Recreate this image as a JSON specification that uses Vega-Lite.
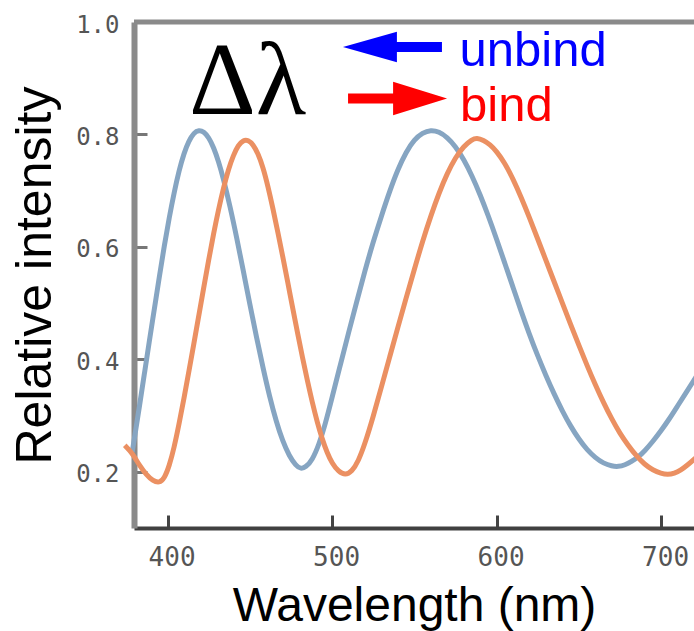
{
  "$schema": "https://vega.github.io/schema/vega-lite/v6.json",
  "width": 560,
  "height": 506,
  "autosize": {"type": "none"},
  "padding": {"left": 134, "top": 22, "right": 0, "bottom": 103},
  "background": "white",
  "config": {"view": {"stroke": null}},
  "layer": [
    {
      "data": {"values": [{"border": "top", "intensity": 1.0}]},
      "mark": {"type": "rule", "color": "#8a8a8a", "strokeWidth": 5},
      "encoding": {"y": {"field": "intensity", "type": "quantitative"}}
    },
    {
      "data": {"values": [
        {"wavelength": 378.5, "intensity": 0.235, "series": "unbind"},
        {"wavelength": 380, "intensity": 0.262, "series": "unbind"},
        {"wavelength": 383, "intensity": 0.318, "series": "unbind"},
        {"wavelength": 386, "intensity": 0.376, "series": "unbind"},
        {"wavelength": 389, "intensity": 0.434, "series": "unbind"},
        {"wavelength": 392, "intensity": 0.49, "series": "unbind"},
        {"wavelength": 395, "intensity": 0.547, "series": "unbind"},
        {"wavelength": 398, "intensity": 0.602, "series": "unbind"},
        {"wavelength": 401, "intensity": 0.652, "series": "unbind"},
        {"wavelength": 404, "intensity": 0.697, "series": "unbind"},
        {"wavelength": 407, "intensity": 0.736, "series": "unbind"},
        {"wavelength": 410, "intensity": 0.767, "series": "unbind"},
        {"wavelength": 413, "intensity": 0.789, "series": "unbind"},
        {"wavelength": 416, "intensity": 0.803, "series": "unbind"},
        {"wavelength": 419, "intensity": 0.808, "series": "unbind"},
        {"wavelength": 422, "intensity": 0.805, "series": "unbind"},
        {"wavelength": 425, "intensity": 0.795, "series": "unbind"},
        {"wavelength": 428, "intensity": 0.777, "series": "unbind"},
        {"wavelength": 431, "intensity": 0.752, "series": "unbind"},
        {"wavelength": 434, "intensity": 0.721, "series": "unbind"},
        {"wavelength": 438, "intensity": 0.672, "series": "unbind"},
        {"wavelength": 442, "intensity": 0.617, "series": "unbind"},
        {"wavelength": 446, "intensity": 0.558, "series": "unbind"},
        {"wavelength": 450, "intensity": 0.498, "series": "unbind"},
        {"wavelength": 454, "intensity": 0.44, "series": "unbind"},
        {"wavelength": 458, "intensity": 0.385, "series": "unbind"},
        {"wavelength": 462, "intensity": 0.334, "series": "unbind"},
        {"wavelength": 466, "intensity": 0.29, "series": "unbind"},
        {"wavelength": 470, "intensity": 0.254, "series": "unbind"},
        {"wavelength": 474, "intensity": 0.228, "series": "unbind"},
        {"wavelength": 478, "intensity": 0.211, "series": "unbind"},
        {"wavelength": 481, "intensity": 0.205, "series": "unbind"},
        {"wavelength": 484, "intensity": 0.208, "series": "unbind"},
        {"wavelength": 488, "intensity": 0.221, "series": "unbind"},
        {"wavelength": 492, "intensity": 0.248, "series": "unbind"},
        {"wavelength": 496, "intensity": 0.286, "series": "unbind"},
        {"wavelength": 500, "intensity": 0.332, "series": "unbind"},
        {"wavelength": 505, "intensity": 0.39, "series": "unbind"},
        {"wavelength": 510, "intensity": 0.447, "series": "unbind"},
        {"wavelength": 515, "intensity": 0.503, "series": "unbind"},
        {"wavelength": 520, "intensity": 0.558, "series": "unbind"},
        {"wavelength": 525, "intensity": 0.609, "series": "unbind"},
        {"wavelength": 530, "intensity": 0.655, "series": "unbind"},
        {"wavelength": 535, "intensity": 0.699, "series": "unbind"},
        {"wavelength": 540, "intensity": 0.738, "series": "unbind"},
        {"wavelength": 545, "intensity": 0.769, "series": "unbind"},
        {"wavelength": 550, "intensity": 0.791, "series": "unbind"},
        {"wavelength": 555, "intensity": 0.803, "series": "unbind"},
        {"wavelength": 560, "intensity": 0.808, "series": "unbind"},
        {"wavelength": 565, "intensity": 0.805, "series": "unbind"},
        {"wavelength": 570, "intensity": 0.795, "series": "unbind"},
        {"wavelength": 575, "intensity": 0.779, "series": "unbind"},
        {"wavelength": 580, "intensity": 0.756, "series": "unbind"},
        {"wavelength": 585, "intensity": 0.727, "series": "unbind"},
        {"wavelength": 590, "intensity": 0.693, "series": "unbind"},
        {"wavelength": 595, "intensity": 0.655, "series": "unbind"},
        {"wavelength": 600, "intensity": 0.614, "series": "unbind"},
        {"wavelength": 605, "intensity": 0.571, "series": "unbind"},
        {"wavelength": 610, "intensity": 0.528, "series": "unbind"},
        {"wavelength": 615, "intensity": 0.485, "series": "unbind"},
        {"wavelength": 620, "intensity": 0.444, "series": "unbind"},
        {"wavelength": 625, "intensity": 0.406, "series": "unbind"},
        {"wavelength": 630, "intensity": 0.371, "series": "unbind"},
        {"wavelength": 635, "intensity": 0.338, "series": "unbind"},
        {"wavelength": 640, "intensity": 0.308, "series": "unbind"},
        {"wavelength": 645, "intensity": 0.281, "series": "unbind"},
        {"wavelength": 650, "intensity": 0.258, "series": "unbind"},
        {"wavelength": 655, "intensity": 0.239, "series": "unbind"},
        {"wavelength": 660, "intensity": 0.225, "series": "unbind"},
        {"wavelength": 665, "intensity": 0.215, "series": "unbind"},
        {"wavelength": 670, "intensity": 0.21, "series": "unbind"},
        {"wavelength": 674, "intensity": 0.209, "series": "unbind"},
        {"wavelength": 678, "intensity": 0.212, "series": "unbind"},
        {"wavelength": 682, "intensity": 0.218, "series": "unbind"},
        {"wavelength": 686, "intensity": 0.226, "series": "unbind"},
        {"wavelength": 690, "intensity": 0.237, "series": "unbind"},
        {"wavelength": 695, "intensity": 0.254, "series": "unbind"},
        {"wavelength": 700, "intensity": 0.273, "series": "unbind"},
        {"wavelength": 705, "intensity": 0.294, "series": "unbind"},
        {"wavelength": 710, "intensity": 0.317, "series": "unbind"},
        {"wavelength": 715, "intensity": 0.34, "series": "unbind"},
        {"wavelength": 720, "intensity": 0.363, "series": "unbind"},
        {"wavelength": 725, "intensity": 0.386, "series": "unbind"},
        {"wavelength": 374, "intensity": 0.247, "series": "bind"},
        {"wavelength": 377, "intensity": 0.238, "series": "bind"},
        {"wavelength": 380, "intensity": 0.226, "series": "bind"},
        {"wavelength": 383, "intensity": 0.211, "series": "bind"},
        {"wavelength": 387, "intensity": 0.195, "series": "bind"},
        {"wavelength": 391, "intensity": 0.184, "series": "bind"},
        {"wavelength": 395, "intensity": 0.18, "series": "bind"},
        {"wavelength": 398, "intensity": 0.188, "series": "bind"},
        {"wavelength": 401, "intensity": 0.21, "series": "bind"},
        {"wavelength": 404, "intensity": 0.243, "series": "bind"},
        {"wavelength": 407, "intensity": 0.285, "series": "bind"},
        {"wavelength": 410, "intensity": 0.331, "series": "bind"},
        {"wavelength": 413, "intensity": 0.379, "series": "bind"},
        {"wavelength": 416, "intensity": 0.428, "series": "bind"},
        {"wavelength": 419, "intensity": 0.478, "series": "bind"},
        {"wavelength": 422, "intensity": 0.528, "series": "bind"},
        {"wavelength": 425, "intensity": 0.577, "series": "bind"},
        {"wavelength": 428, "intensity": 0.624, "series": "bind"},
        {"wavelength": 431, "intensity": 0.667, "series": "bind"},
        {"wavelength": 434, "intensity": 0.705, "series": "bind"},
        {"wavelength": 437, "intensity": 0.738, "series": "bind"},
        {"wavelength": 440, "intensity": 0.763, "series": "bind"},
        {"wavelength": 443, "intensity": 0.781, "series": "bind"},
        {"wavelength": 446, "intensity": 0.79, "series": "bind"},
        {"wavelength": 449, "intensity": 0.79, "series": "bind"},
        {"wavelength": 452, "intensity": 0.782, "series": "bind"},
        {"wavelength": 455, "intensity": 0.766, "series": "bind"},
        {"wavelength": 458, "intensity": 0.742, "series": "bind"},
        {"wavelength": 461, "intensity": 0.708, "series": "bind"},
        {"wavelength": 464, "intensity": 0.669, "series": "bind"},
        {"wavelength": 467, "intensity": 0.627, "series": "bind"},
        {"wavelength": 470, "intensity": 0.583, "series": "bind"},
        {"wavelength": 473, "intensity": 0.538, "series": "bind"},
        {"wavelength": 476, "intensity": 0.492, "series": "bind"},
        {"wavelength": 479, "intensity": 0.447, "series": "bind"},
        {"wavelength": 482, "intensity": 0.403, "series": "bind"},
        {"wavelength": 485, "intensity": 0.362, "series": "bind"},
        {"wavelength": 488, "intensity": 0.323, "series": "bind"},
        {"wavelength": 491, "intensity": 0.288, "series": "bind"},
        {"wavelength": 494, "intensity": 0.258, "series": "bind"},
        {"wavelength": 497, "intensity": 0.234, "series": "bind"},
        {"wavelength": 500, "intensity": 0.215, "series": "bind"},
        {"wavelength": 504, "intensity": 0.2, "series": "bind"},
        {"wavelength": 508, "intensity": 0.194, "series": "bind"},
        {"wavelength": 512, "intensity": 0.2, "series": "bind"},
        {"wavelength": 516, "intensity": 0.219, "series": "bind"},
        {"wavelength": 520, "intensity": 0.25, "series": "bind"},
        {"wavelength": 525, "intensity": 0.298, "series": "bind"},
        {"wavelength": 530, "intensity": 0.351, "series": "bind"},
        {"wavelength": 535, "intensity": 0.404, "series": "bind"},
        {"wavelength": 540, "intensity": 0.457, "series": "bind"},
        {"wavelength": 545, "intensity": 0.509, "series": "bind"},
        {"wavelength": 550, "intensity": 0.56, "series": "bind"},
        {"wavelength": 555, "intensity": 0.61, "series": "bind"},
        {"wavelength": 560, "intensity": 0.655, "series": "bind"},
        {"wavelength": 565, "intensity": 0.696, "series": "bind"},
        {"wavelength": 570, "intensity": 0.731, "series": "bind"},
        {"wavelength": 575, "intensity": 0.759, "series": "bind"},
        {"wavelength": 580, "intensity": 0.779, "series": "bind"},
        {"wavelength": 585, "intensity": 0.791, "series": "bind"},
        {"wavelength": 588, "intensity": 0.794, "series": "bind"},
        {"wavelength": 592, "intensity": 0.79, "series": "bind"},
        {"wavelength": 596, "intensity": 0.782, "series": "bind"},
        {"wavelength": 600, "intensity": 0.77, "series": "bind"},
        {"wavelength": 605, "intensity": 0.749, "series": "bind"},
        {"wavelength": 610, "intensity": 0.721, "series": "bind"},
        {"wavelength": 615, "intensity": 0.688, "series": "bind"},
        {"wavelength": 620, "intensity": 0.652, "series": "bind"},
        {"wavelength": 625, "intensity": 0.614, "series": "bind"},
        {"wavelength": 630, "intensity": 0.576, "series": "bind"},
        {"wavelength": 635, "intensity": 0.538, "series": "bind"},
        {"wavelength": 640, "intensity": 0.5, "series": "bind"},
        {"wavelength": 645, "intensity": 0.462, "series": "bind"},
        {"wavelength": 650, "intensity": 0.425, "series": "bind"},
        {"wavelength": 655, "intensity": 0.389, "series": "bind"},
        {"wavelength": 660, "intensity": 0.355, "series": "bind"},
        {"wavelength": 665, "intensity": 0.323, "series": "bind"},
        {"wavelength": 670, "intensity": 0.294, "series": "bind"},
        {"wavelength": 675, "intensity": 0.268, "series": "bind"},
        {"wavelength": 680, "intensity": 0.247, "series": "bind"},
        {"wavelength": 685, "intensity": 0.228, "series": "bind"},
        {"wavelength": 690, "intensity": 0.213, "series": "bind"},
        {"wavelength": 695, "intensity": 0.203, "series": "bind"},
        {"wavelength": 700, "intensity": 0.197, "series": "bind"},
        {"wavelength": 704, "intensity": 0.195, "series": "bind"},
        {"wavelength": 708, "intensity": 0.197, "series": "bind"},
        {"wavelength": 712, "intensity": 0.203, "series": "bind"},
        {"wavelength": 716, "intensity": 0.212, "series": "bind"},
        {"wavelength": 720, "intensity": 0.222, "series": "bind"},
        {"wavelength": 725, "intensity": 0.236, "series": "bind"}
      ]},
      "mark": {"type": "line", "strokeWidth": 5, "clip": false, "interpolate": "basis"},
      "encoding": {
        "x": {
          "field": "wavelength", "type": "quantitative",
          "scale": {"domain": [379.6, 720], "nice": false, "zero": false},
          "axis": {
            "values": [400, 500, 600, 700],
            "title": "Wavelength (nm)",
            "grid": false,
            "domainColor": "#404040", "domainWidth": 4,
            "tickColor": "#444444", "tickWidth": 3, "tickSize": -13,
            "labelFont": "DejaVu Sans Mono", "labelFontSize": 26, "labelColor": "#555555",
            "labelPadding": 29, "labelOffset": 4, "labelFlush": false,
            "titleFont": "Liberation Sans", "titleFontSize": 48, "titleFontWeight": "normal",
            "titleColor": "black", "titlePadding": 12
          }
        },
        "y": {
          "field": "intensity", "type": "quantitative",
          "scale": {"domain": [0.1, 1.0], "nice": false, "zero": false},
          "axis": {
            "values": [0.2, 0.4, 0.6, 0.8, 1.0],
            "format": ".1f",
            "title": "Relative intensity",
            "grid": false,
            "domainColor": "#8a8a8a", "domainWidth": 6,
            "tickColor": "#777777", "tickWidth": 3, "tickSize": -13,
            "labelFont": "DejaVu Sans Mono", "labelFontSize": 24, "labelColor": "#555555",
            "labelPadding": 28, "labelOffset": 3, "labelFlush": false,
            "titleFont": "Liberation Sans", "titleFontSize": 50, "titleFontWeight": "normal",
            "titleColor": "black", "titlePadding": 15
          }
        },
        "color": {
          "field": "series", "type": "nominal",
          "scale": {"domain": ["unbind", "bind"], "range": ["#86a5c2", "#eb9062"]},
          "legend": null
        }
      }
    },
    {
      "data": {"values": [{"label": "Δλ", "wavelength": 413.0, "intensity": 0.836}]},
      "mark": {"type": "text", "font": "Liberation Serif", "fontSize": 104, "align": "left", "baseline": "alphabetic", "color": "black"},
      "encoding": {
        "x": {"field": "wavelength", "type": "quantitative"},
        "y": {"field": "intensity", "type": "quantitative"},
        "text": {"field": "label"}
      }
    },
    {
      "data": {"values": [{"label": "unbind", "wavelength": 577.5, "intensity": 0.9217}]},
      "mark": {"type": "text", "font": "Liberation Sans", "fontSize": 49, "align": "left", "baseline": "alphabetic", "color": "#0000ff"},
      "encoding": {
        "x": {"field": "wavelength", "type": "quantitative"},
        "y": {"field": "intensity", "type": "quantitative"},
        "text": {"field": "label"}
      }
    },
    {
      "data": {"values": [{"label": "bind", "wavelength": 577.8, "intensity": 0.8238}]},
      "mark": {"type": "text", "font": "Liberation Sans", "fontSize": 49, "align": "left", "baseline": "alphabetic", "color": "#ff0000"},
      "encoding": {
        "x": {"field": "wavelength", "type": "quantitative"},
        "y": {"field": "intensity", "type": "quantitative"},
        "text": {"field": "label"}
      }
    },
    {
      "data": {"values": [{"label": "unbind arrow", "wavelength": 536.7, "intensity": 0.9555}]},
      "mark": {"type": "point", "filled": true, "opacity": 1, "color": "#0000ff", "size": 9801, "shape": "M -1 0 L 0.09 -0.31 L 0.09 -0.1 L 1 -0.1 L 1 0.1 L 0.09 0.1 L 0.09 0.31 Z"},
      "encoding": {
        "x": {"field": "wavelength", "type": "quantitative"},
        "y": {"field": "intensity", "type": "quantitative"}
      }
    },
    {
      "data": {"values": [{"label": "bind arrow", "wavelength": 539.8, "intensity": 0.8639}]},
      "mark": {"type": "point", "filled": true, "opacity": 1, "color": "#ff0000", "size": 9801, "shape": "M 1 0 L -0.09 -0.34 L -0.09 -0.1 L -1 -0.1 L -1 0.1 L -0.09 0.1 L -0.09 0.34 Z"},
      "encoding": {
        "x": {"field": "wavelength", "type": "quantitative"},
        "y": {"field": "intensity", "type": "quantitative"}
      }
    }
  ]
}
